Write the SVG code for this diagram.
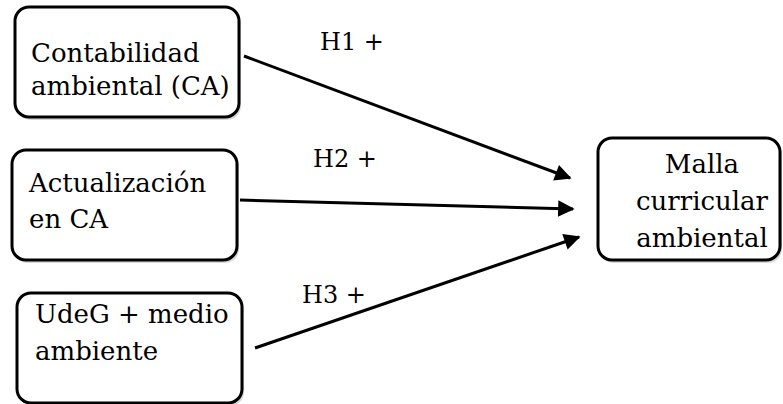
<svg xmlns="http://www.w3.org/2000/svg" width="783" height="404" viewBox="0 0 783 404">
<style>
.box{fill:#fff;stroke:#000;stroke-width:3}
.sh{fill:#d9d9d9;stroke:none}
text{font-family:"DejaVu Serif","Liberation Serif",serif;font-size:26px;fill:#000}
.lbl{font-size:24px}
.c{stroke:#000;stroke-width:3;fill:none;marker-end:url(#ah)}
</style>
<defs>
<marker id="ah" viewBox="0 0 10 10" refX="9" refY="5" markerWidth="6.5" markerHeight="5.5" orient="auto" markerUnits="strokeWidth">
<path d="M0,0 L10,5 L0,10 z" fill="#000"/>
</marker>
</defs>
<g id="n1">
<rect class="sh" x="17" y="10" width="224" height="110" rx="14"/>
<rect class="box" x="15" y="7" width="224" height="110" rx="14"/>
<text x="31" y="62">Contabilidad</text>
<text x="31" y="95">ambiental (CA)</text>
</g>
<g id="n2">
<rect class="sh" x="14" y="153" width="225" height="110" rx="14"/>
<rect class="box" x="12" y="150" width="225" height="110" rx="14"/>
<text x="29" y="192">Actualización</text>
<text x="29" y="228">en CA</text>
</g>
<g id="n3">
<rect class="sh" x="19" y="296" width="225" height="110" rx="14"/>
<rect class="box" x="17" y="293" width="225" height="110" rx="14"/>
<text x="35" y="323">UdeG + medio</text>
<text x="35" y="360">ambiente</text>
</g>
<g id="n4">
<rect class="sh" x="600" y="141" width="182" height="122" rx="14"/>
<rect class="box" x="598" y="138" width="182" height="122" rx="14"/>
<text x="702" y="173" text-anchor="middle">Malla</text>
<text x="702" y="210" text-anchor="middle">curricular</text>
<text x="702" y="247" text-anchor="middle">ambiental</text>
</g>
<g id="connectors">
<line class="c" x1="244" y1="56" x2="570" y2="178"/>
<line class="c" x1="240" y1="200" x2="573" y2="209"/>
<line class="c" x1="255" y1="348" x2="579" y2="237"/>
<text class="lbl" x="320" y="50">H1 +</text>
<text class="lbl" x="313" y="167">H2 +</text>
<text class="lbl" x="302" y="303">H3 +</text>
</g>
</svg>
